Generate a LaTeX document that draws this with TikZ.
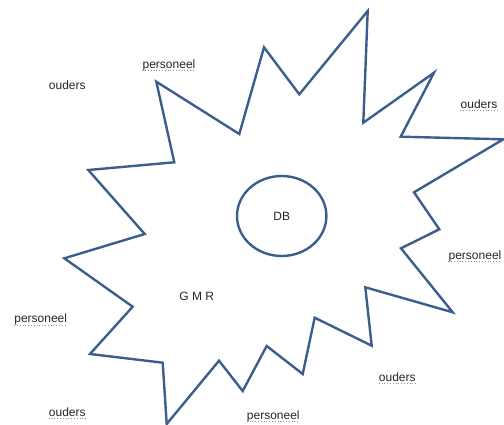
\documentclass[tikz,border=0pt]{standalone}
\usepackage{fontspec}
\setmainfont{Liberation Sans}
\usepackage{tikz}

\definecolor{starblue}{HTML}{3B5E8C}
\definecolor{spellgreen}{HTML}{6FA85A}

\tikzset{
  lbl/.style={font=\fontsize{12}{14}\selectfont, text=black!85, inner sep=0pt},
  spell/.style={append after command={\pgfextra{\let\spellnode\tikzlastnode}
    ([yshift=-2.2pt]\spellnode.base west) edge[draw=spellgreen, dotted, line width=0.8pt] ([yshift=-2.2pt]\spellnode.base east)}}
}

\begin{document}
\begin{tikzpicture}[x=1pt,y=-1pt]
\useasboundingbox (0,0) rectangle (504,425);
% the star
\draw[starblue, line width=2.4pt, line join=miter] (367.7,11) -- (363.3,122.7) -- (434,72.7) -- (400.7,136.7)
  -- (503.3,139.3) -- (414,192.3) -- (439.3,229.3) -- (401,248.3) -- (452.7,312.3)
  -- (365.3,287.3) -- (371.7,345.7) -- (314.7,317.7) -- (302.7,374) -- (266.7,346)
  -- (242.7,391) -- (219,360.7) -- (166.7,424) -- (162.7,362.7) -- (90,354)
  -- (132.7,306.7) -- (64.3,258.3) -- (144.7,234) -- (88.3,170) -- (174.3,162.3)
  -- (156.3,81.7) -- (239.3,134) -- (264,47.3) -- (299.3,94.3) -- cycle;
% the database
\draw[starblue, line width=2.4pt] (281.7,216) node[lbl] (DB) {DB} ellipse [x radius=44.7, y radius=40];
\draw (196.7,296) node[lbl] (GMR) {G M R};

% labels round the star
\draw (67.3,89.5) node[lbl,anchor=base] (OudersTL) {ouders};
\draw (169,68.2) node[lbl,anchor=base,spell] (PersoneelTop) {personeel};
\draw (479,108.5) node[lbl,anchor=base,spell] (OudersR) {ouders};
\draw (475,259) node[lbl,anchor=base,spell] (PersoneelR) {personeel};
\draw (40.7,323) node[lbl,anchor=base,spell] (PersoneelL) {personeel};
\draw (397.3,381) node[lbl,anchor=base,spell] (OudersBR) {ouders};
\draw (67.3,416.3) node[lbl,anchor=base,spell] (OudersBL) {ouders};
\draw (273.3,419.5) node[lbl,anchor=base,spell] (PersoneelBot) {personeel};
\end{tikzpicture}
\end{document}
